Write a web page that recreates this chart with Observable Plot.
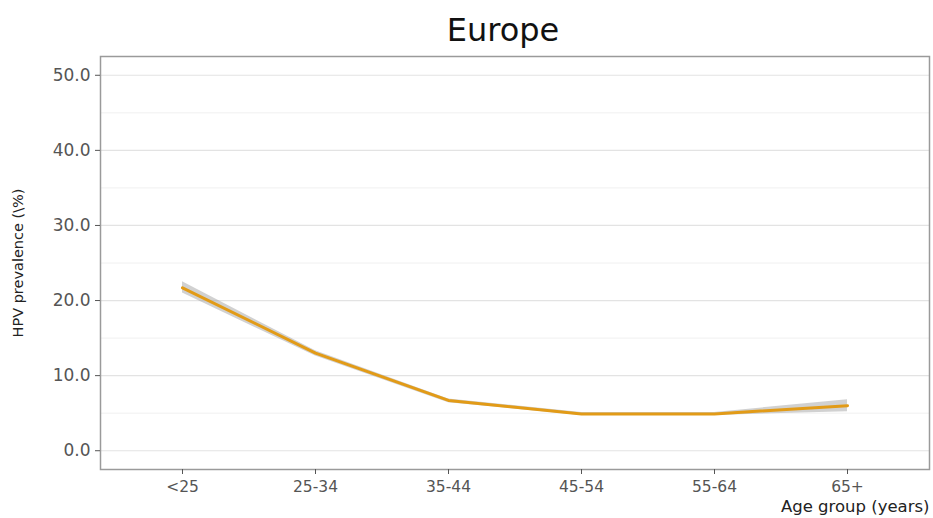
<!DOCTYPE html>
<html>
<head>
<meta charset="utf-8">
<script src="https://cdn.jsdelivr.net/npm/d3@7"></script>
<script src="https://cdn.jsdelivr.net/npm/@observablehq/plot@0.6"></script>
<style>
  html, body { margin: 0; padding: 0; background: #fff; }
  svg { display: block; }
</style>
</head>
<body>
<div id="chart"></div>
<script>
// HPV prevalence by age group, Europe
const ageGroups = ["<25", "25-34", "35-44", "45-54", "55-64", "65+"];
const prevalence = [21.7, 13.0, 6.7, 4.9, 4.9, 6.0];
const ciLow = [21.0, 12.6, 6.4, 4.7, 4.7, 5.2];
const ciHigh = [22.5, 13.3, 6.9, 5.1, 5.1, 6.8];
const majorTicks = [0, 10, 20, 30, 40, 50];
const minorTicks = [5, 15, 25, 35, 45];

const rows = ageGroups.map((g, i) => ({
  group: g, value: prevalence[i], low: ciLow[i], high: ciHigh[i]
}));

const font = "DejaVu Sans, sans-serif";

const chart = Plot.plot({
  width: 933,
  height: 518,
  marginLeft: 100,
  marginRight: 4,
  marginTop: 56,
  marginBottom: 49,
  style: { fontFamily: font, background: "#fff" },
  x: { type: "point", domain: ageGroups, padding: 0.6 },
  y: { domain: [-2.5, 52.5] },
  marks: [
    Plot.ruleY(minorTicks, { stroke: "#f0f0f0", strokeWidth: 1 }),
    Plot.ruleY(majorTicks, { stroke: "#e3e3e3", strokeWidth: 1.2 }),
    Plot.areaY(rows, { x: "group", y1: "low", y2: "high", fill: "#9a9a9a", fillOpacity: 0.45 }),
    Plot.lineY(rows, { x: "group", y: "value", stroke: "#e29b17", strokeWidth: 3 }),
    Plot.frame({ stroke: "#9a9a9a", strokeWidth: 1.5 }),
    Plot.axisY(majorTicks, {
      tickSize: 5, tickPadding: 5, fontSize: 17, color: "#555",
      tickFormat: d => d.toFixed(1),
      label: "HPV prevalence (\\%)", labelAnchor: "center", labelArrow: "none",
      labelOffset: 88
    }),
    Plot.axisX({
      tickSize: 5, tickPadding: 6, fontSize: 15.5, color: "#555", label: null
    }),
    Plot.text(["Age group (years)"], {
      frameAnchor: "bottom-right", dy: 42, fontSize: 16.5, fill: "#222"
    }),
    Plot.text(["Europe"], {
      frameAnchor: "top", dx: -12, dy: -38, fontSize: 32, fill: "#111"
    })
  ]
});

// axis label styling
chart.querySelectorAll("[aria-label='y-axis label'] text").forEach(t => {
  t.setAttribute("font-size", "14.5");
  t.setAttribute("fill", "#222");
});

document.getElementById("chart").appendChild(chart);
</script>
</body>
</html>
